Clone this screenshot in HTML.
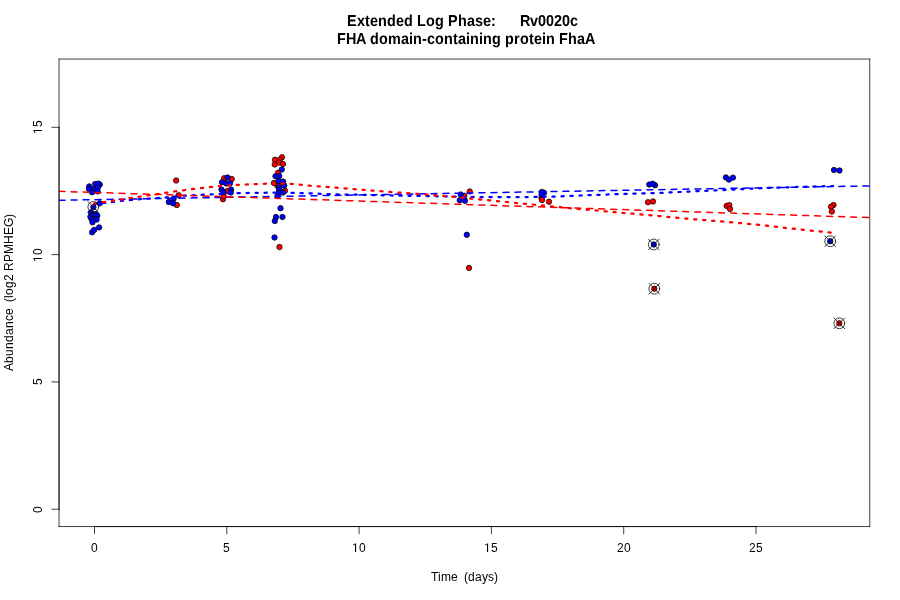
<!DOCTYPE html>
<html><head><meta charset="utf-8"><title>Rv0020c</title>
<style>html,body{margin:0;padding:0;background:#fff;}svg{display:block;will-change:transform;}text{font-family:"Liberation Sans",sans-serif;fill:#000;}</style>
</head><body>
<svg width="900" height="600" viewBox="0 0 900 600">
<rect x="0" y="0" width="900" height="600" fill="#fff"/>
<g transform="translate(0 26) scale(1 1.1)"><text x="347 357 365 370 378 387 396 404 417 426 435 448 458 467 475 483 491" y="0" font-size="14.4" font-weight="bold" text-rendering="geometricPrecision">ExtendedLogPhase:</text><text x="520 530 538 546 554 562 570" y="0" font-size="14.4" font-weight="bold" text-rendering="geometricPrecision">Rv0020c</text></g>
<g transform="translate(0 44) scale(1 1.1)"><text x="337 346 356 370 379 388 401 409 413 422 427 435 444 453 458 466 470 479 483 492 505 514 520 529 534 542 546 559 568 577 585" y="0" font-size="14.4" font-weight="bold" text-rendering="geometricPrecision">FHAdomain-containingproteinFhaA</text></g>
<defs><clipPath id="pr"><rect x="59.04" y="59.04" width="810.72" height="467.52"/></clipPath></defs>
<g stroke="#000" stroke-width="0.75">
<g fill="#f00">
<circle cx="176.1" cy="180.5" r="2.7"/>
<circle cx="178.6" cy="195.2" r="2.7"/>
<circle cx="176.8" cy="205" r="2.7"/>
<circle cx="224.2" cy="178.2" r="2.7"/>
<circle cx="231.75" cy="179" r="2.7"/>
<circle cx="227.5" cy="191" r="2.7"/>
<circle cx="223" cy="199.3" r="2.7"/>
<circle cx="223.7" cy="196.3" r="2.7"/>
<circle cx="282" cy="157.25" r="2.7"/>
<circle cx="275" cy="159.75" r="2.7"/>
<circle cx="279.75" cy="159.75" r="2.7"/>
<circle cx="279" cy="162.5" r="2.7"/>
<circle cx="274.75" cy="164.5" r="2.7"/>
<circle cx="283" cy="164" r="2.7"/>
<circle cx="278" cy="172.8" r="2.7"/>
<circle cx="273.9" cy="183" r="2.7"/>
<circle cx="277.4" cy="185.8" r="2.7"/>
<circle cx="283" cy="183.75" r="2.7"/>
<circle cx="279.25" cy="185.25" r="2.7"/>
<circle cx="285" cy="190.75" r="2.7"/>
<circle cx="279.5" cy="247" r="2.7"/>
<circle cx="469.75" cy="191.5" r="2.7"/>
<circle cx="464.4" cy="195.8" r="2.7"/>
<circle cx="469" cy="267.9" r="2.7"/>
<circle cx="541.5" cy="198" r="2.7"/>
<circle cx="542" cy="200" r="2.7"/>
<circle cx="549" cy="201.75" r="2.7"/>
<circle cx="648" cy="202.25" r="2.7"/>
<circle cx="653" cy="201.5" r="2.7"/>
<circle cx="654.3" cy="288.7" r="2.7"/>
<circle cx="726.6" cy="205.9" r="2.7"/>
<circle cx="729.3" cy="205.1" r="2.7"/>
<circle cx="730" cy="208.9" r="2.7"/>
<circle cx="833.5" cy="205" r="2.7"/>
<circle cx="831" cy="206.8" r="2.7"/>
<circle cx="831.8" cy="211.5" r="2.7"/>
<circle cx="839.3" cy="323.3" r="2.7"/>
</g><g fill="#00f">
<circle cx="89.2" cy="186.4" r="2.7"/>
<circle cx="88.9" cy="189" r="2.7"/>
<circle cx="93.8" cy="189" r="2.7"/>
<circle cx="92.1" cy="192.2" r="2.7"/>
<circle cx="95.2" cy="184" r="2.7"/>
<circle cx="99.8" cy="184.6" r="2.7"/>
<circle cx="98.3" cy="183.6" r="2.7"/>
<circle cx="97.9" cy="187.4" r="2.7"/>
<circle cx="97.7" cy="191.4" r="2.7"/>
<circle cx="93.4" cy="207.2" r="2.7"/>
<circle cx="99.7" cy="203.3" r="2.7"/>
<circle cx="91" cy="212.5" r="2.7"/>
<circle cx="90.4" cy="216.8" r="2.7"/>
<circle cx="93.7" cy="214.6" r="2.7"/>
<circle cx="95.6" cy="214.3" r="2.7"/>
<circle cx="97.3" cy="215.6" r="2.7"/>
<circle cx="91.6" cy="219.2" r="2.7"/>
<circle cx="96.6" cy="219.6" r="2.7"/>
<circle cx="92.5" cy="222.3" r="2.7"/>
<circle cx="99.1" cy="227.4" r="2.7"/>
<circle cx="92.1" cy="232.3" r="2.7"/>
<circle cx="94.2" cy="229.9" r="2.7"/>
<circle cx="173.6" cy="198.8" r="2.7"/>
<circle cx="168.8" cy="202" r="2.7"/>
<circle cx="173.2" cy="203.4" r="2.7"/>
<circle cx="227.5" cy="177.5" r="2.7"/>
<circle cx="222" cy="182.25" r="2.7"/>
<circle cx="226.25" cy="183.5" r="2.7"/>
<circle cx="230" cy="183.25" r="2.7"/>
<circle cx="221.5" cy="189.5" r="2.7"/>
<circle cx="231" cy="189.5" r="2.7"/>
<circle cx="230.75" cy="192.5" r="2.7"/>
<circle cx="223.5" cy="192" r="2.7"/>
<circle cx="281.75" cy="169.5" r="2.7"/>
<circle cx="275.5" cy="176.25" r="2.7"/>
<circle cx="279.25" cy="176" r="2.7"/>
<circle cx="278.5" cy="181" r="2.7"/>
<circle cx="283" cy="181.5" r="2.7"/>
<circle cx="284.25" cy="185.5" r="2.7"/>
<circle cx="279" cy="187.25" r="2.7"/>
<circle cx="279" cy="190" r="2.7"/>
<circle cx="279" cy="193" r="2.7"/>
<circle cx="283" cy="192.5" r="2.7"/>
<circle cx="277.5" cy="196" r="2.7"/>
<circle cx="280.5" cy="208.2" r="2.7"/>
<circle cx="276" cy="217" r="2.7"/>
<circle cx="282.5" cy="217" r="2.7"/>
<circle cx="274.8" cy="221" r="2.7"/>
<circle cx="274.5" cy="237.5" r="2.7"/>
<circle cx="460.75" cy="194.5" r="2.7"/>
<circle cx="459.75" cy="200.25" r="2.7"/>
<circle cx="465" cy="200.75" r="2.7"/>
<circle cx="466.8" cy="234.8" r="2.7"/>
<circle cx="541.75" cy="192" r="2.7"/>
<circle cx="544" cy="192.75" r="2.7"/>
<circle cx="541.5" cy="194.5" r="2.7"/>
<circle cx="649.25" cy="184.5" r="2.7"/>
<circle cx="655" cy="185.25" r="2.7"/>
<circle cx="652.75" cy="183.75" r="2.7"/>
<circle cx="653.8" cy="244.5" r="2.7"/>
<circle cx="725.9" cy="177.4" r="2.7"/>
<circle cx="733" cy="177.6" r="2.7"/>
<circle cx="728.9" cy="179.6" r="2.7"/>
<circle cx="834" cy="170" r="2.7"/>
<circle cx="839.5" cy="170.5" r="2.7"/>
<circle cx="830.2" cy="241.2" r="2.7"/>
</g></g>
<g clip-path="url(#pr)" fill="none" stroke-linecap="round" stroke-linejoin="round">
<line x1="59.04" y1="200.3" x2="869.76" y2="185.9" stroke="#00f" stroke-width="1.5" stroke-dasharray="6 6"/>
<polyline points="94,204 104,203 113,201.9 122,200.8 131,199.9 140,199.2 149,198.6 158,198 167,197.4 176,196.5 184,195.7 198,195 212,194.3 227,193.6 242,193.1 257,192.8 275,192.7 293,192.8 302,193.1 320,193.8 338,194.4 365,194.9 392,195.5 416,195.9 440,196.3 458,196.7 475,197 500,197.1 530,197 554,196.6 581,195.5 608,194.5 634,193.6 653,193.2 679,192 706,190.8 733,189.6 751,188.6 775,187.7 800,186.9 833,186" stroke="#00f" stroke-width="2.25" stroke-dasharray="2.25 6.75"/>
<line x1="59.04" y1="191.3" x2="869.76" y2="217.6" stroke="#f00" stroke-width="1.5" stroke-dasharray="6 6"/>
<polyline points="94,203.5 104,202 113,200.7 122,199.4 131,198 140,196.6 149,195.2 158,194 167,192.6 176,191.2 196,188.6 217.7,186.2 236.5,184.9 256,184.1 270,183.6 282,183.5 292,183.9 301,184.8 310,185.7 319,186.4 328,187 337,187.7 355,189.2 372.4,190.6 390,191.9 408,193.2 427,194.6 445,196.1 460,197.4 471,198.6 489,200.3 507,202 525,203.8 544,205.6 570,208.2 596,210.5 615,212.2 633,213.7 651,215.3 678,217.9 704,220.1 731,222.3 750,224 767,225.7 785,227.9 802,229.7 821,231.6 831.5,232.6" stroke="#f00" stroke-width="2.25" stroke-dasharray="2.25 6.75"/>
</g>
<g fill="none" stroke="#000" stroke-width="0.75" stroke-linecap="round">
<circle cx="93.3" cy="207" r="5.4"/>
<path d="M87.9 201.6L98.7 212.4M87.9 212.4L98.7 201.6"/>
<circle cx="653.8" cy="244.5" r="5.4"/>
<path d="M648.4 239.1L659.2 249.9M648.4 249.9L659.2 239.1"/>
<circle cx="654.3" cy="288.7" r="5.4"/>
<path d="M648.9 283.3L659.7 294.1M648.9 294.1L659.7 283.3"/>
<circle cx="830.2" cy="241.2" r="5.4"/>
<path d="M824.8 235.8L835.6 246.6M824.8 246.6L835.6 235.8"/>
<circle cx="839.3" cy="323.3" r="5.4"/>
<path d="M833.9 317.9L844.7 328.7M833.9 328.7L844.7 317.9"/>
</g>
<g fill="none" stroke="#000" stroke-width="0.75" stroke-linecap="round">
<line x1="59.04" y1="59.04" x2="869.76" y2="59.04"/><line x1="869.76" y1="59.04" x2="869.76" y2="526.56"/><line x1="869.76" y1="526.56" x2="59.04" y2="526.56"/><line x1="59.04" y1="526.56" x2="59.04" y2="59.04"/>
<line x1="94.5" y1="526.56" x2="756" y2="526.56"/>
<line x1="94.5" y1="526.56" x2="94.5" y2="533.76"/>
<line x1="226.8" y1="526.56" x2="226.8" y2="533.76"/>
<line x1="359.1" y1="526.56" x2="359.1" y2="533.76"/>
<line x1="491.4" y1="526.56" x2="491.4" y2="533.76"/>
<line x1="623.7" y1="526.56" x2="623.7" y2="533.76"/>
<line x1="756" y1="526.56" x2="756" y2="533.76"/>
<line x1="59.04" y1="509.24" x2="59.04" y2="127.28"/>
<line x1="59.04" y1="509.24" x2="51.84" y2="509.24"/>
<line x1="59.04" y1="381.92" x2="51.84" y2="381.92"/>
<line x1="59.04" y1="254.6" x2="51.84" y2="254.6"/>
<line x1="59.04" y1="127.28" x2="51.84" y2="127.28"/>
</g>
<text x="91" y="552" font-size="12" >0</text>
<text x="223" y="552" font-size="12" >5</text>
<text x="359" y="552" font-size="12" >0</text>
<text x="491" y="552" font-size="12" >5</text>
<text x="617 624" y="552" font-size="12" >20</text>
<text x="749 756" y="552" font-size="12" >25</text>
<g transform="translate(42 513) rotate(-90)"><text x="0" y="0" font-size="12" >0</text></g>
<g transform="translate(42 385) rotate(-90)"><text x="0" y="0" font-size="12" >5</text></g>
<g transform="translate(42 262) rotate(-90)"><text x="7" y="0" font-size="12" >0</text></g>
<g transform="translate(42 134) rotate(-90)"><text x="7" y="0" font-size="12" >5</text></g>
<path fill="#000" d="M356.1 552L356.1 543.4L355.2 543.4L352.95 544.7L352.95 545.5L355 544.55L355 552ZM488.1 552L488.1 543.4L487.2 543.4L484.95 544.7L484.95 545.5L487 544.55L487 552ZM42 257.9L33.4 257.9L33.4 258.8L34.7 261.05L35.5 261.05L34.55 259L42 259ZM42 129.9L33.4 129.9L33.4 130.8L34.7 133.05L35.5 133.05L34.55 131L42 131Z"/>
<text x="431 438 441 451 464 468 475 482 488 494" y="581" font-size="12" >Time(days)</text>
<g transform="translate(13 371) rotate(-90)"><text x="0 8 15 22 29 36 43 50 56 69 73 76 83 90 100 109 117 127 136 144 153" y="0" font-size="12" >Abundance(log2RPMHEG)</text></g>
</svg>
</body></html>
